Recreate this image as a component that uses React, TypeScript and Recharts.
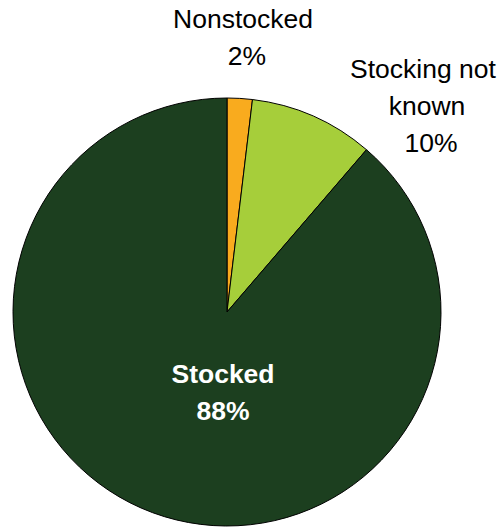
import { PieChart, Pie, Cell } from 'recharts'

// slice order is clockwise from 12 o'clock
const categories = ['Nonstocked', 'Stocking not known', 'Stocked']
const shares = [1.9, 9.4, 88.7]
const shareLabels = ['2%', '10%', '88%']
const labelLines = [['Nonstocked'], ['Stocking not', 'known'], ['Stocked']]
const colors = ['#F9AB1E', '#A6CE3A', '#1C3F1F']

const data = categories.map((name, i) => ({ name, value: shares[i] }))

const FONT = '"Liberation Sans", Arial, Helvetica, sans-serif'
const LINE = 37

// label block anchors, relative to pie centre (first baseline)
const anchors = [
  { dx: 16, dy: -284, fill: '#000', weight: 400 },
  { dx: 196, dy: -234, fill: '#000', weight: 400 },
  { dx: -4, dy: 71, fill: '#fff', weight: 700 },
]

function renderLabel(props: any) {
  const { cx, cy, index } = props
  const a = anchors[index]
  const lines = [...labelLines[index], shareLabels[index]]
  return (
    <text
      key={`lbl-${index}`}
      x={cx + a.dx}
      y={cy + a.dy}
      textAnchor="middle"
      fill={a.fill}
      fontFamily={FONT}
      fontSize={26.5}
      fontWeight={a.weight}
    >
      {lines.map((t, j) => (
        <tspan key={j} x={cx + a.dx + (index === 2 ? 0 : j * 4)} dy={j === 0 ? 0 : LINE}>
          {t}
        </tspan>
      ))}
    </text>
  )
}

export default function App() {
  return (
    <div style={{ position: 'absolute', left: 0, top: 0, background: '#fff' }}>
      <PieChart width={499} height={527} margin={{ top: 0, right: 0, bottom: 0, left: 0 }}>
        <Pie
          data={data}
          dataKey="value"
          nameKey="name"
          cx={227}
          cy={312}
          outerRadius={214}
          startAngle={90}
          endAngle={-270}
          label={renderLabel}
          labelLine={false}
          isAnimationActive={false}
        >
          {data.map((d, i) => (
            <Cell key={d.name} fill={colors[i]} stroke="#000" strokeWidth={1} />
          ))}
        </Pie>
      </PieChart>
    </div>
  )
}
